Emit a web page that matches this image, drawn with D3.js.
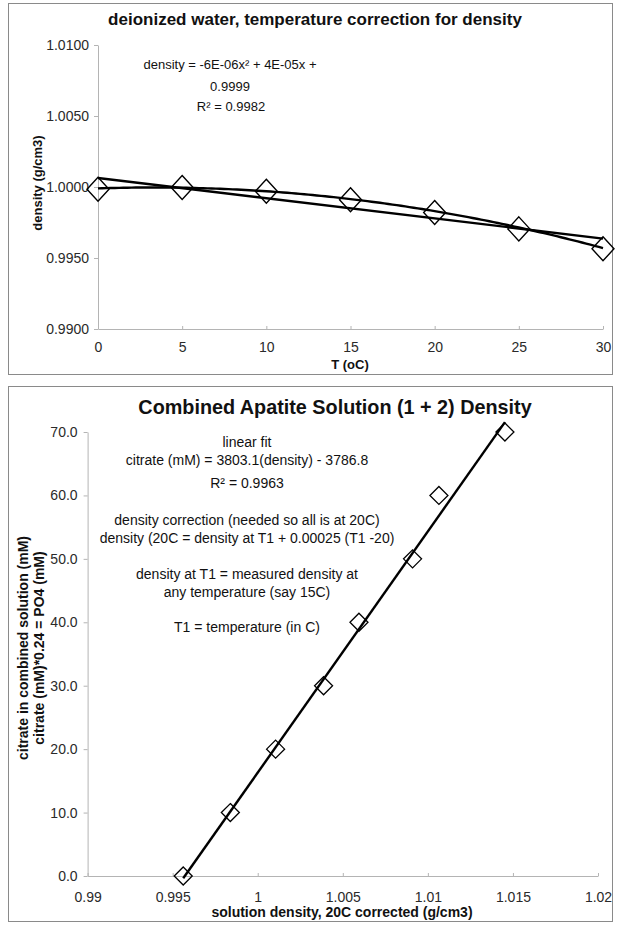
<!DOCTYPE html>
<html>
<head>
<meta charset="utf-8">
<script src="https://cdn.jsdelivr.net/npm/d3@7"></script>
<style>
  html, body { margin: 0; padding: 0; background: #fff; }
  svg { display: block; }
  text { font-family: "Liberation Sans", Arial, sans-serif; }
</style>
</head>
<body>
<svg id="chart" width="617" height="926"></svg>
<script>
// ---- Deionized water: density vs temperature ----
const tempC = [0, 5, 10, 15, 20, 25, 30];
const waterDensity = [0.99984, 0.99997, 0.99970, 0.99910, 0.99820, 0.99705, 0.99565];
const waterYTicks = [0.990, 0.995, 1.000, 1.005, 1.010];
const waterXTicks = [0, 5, 10, 15, 20, 25, 30];
// second-order trend line, as printed on the chart: a*x^2 + b*x + c
const polyCoef = [-6e-6, 4e-5, 0.9999];
const waterFitText = ["density = -6E-06x\u00B2 + 4E-05x +", "0.9999", "R\u00B2 = 0.9982"];

// ---- Combined apatite solution: citrate vs corrected density ----
const citrateMM = [0, 10, 20, 30, 40, 50, 60, 70];
const solutionDensity = [0.99562, 0.99839, 1.00105, 1.00387, 1.00595, 1.00910, 1.01065, 1.01453];
const apatiteXTicks = [0.990, 0.995, 1.000, 1.005, 1.010, 1.015, 1.020];
const apatiteYTicks = [0, 10, 20, 30, 40, 50, 60, 70];
// linear trend line, as printed: citrate = slope*density + intercept
const linFit = { slope: 3803.1, intercept: -3786.8 };
const apatiteNotes = [
  "linear fit",
  "citrate (mM) = 3803.1(density) - 3786.8",
  "R\u00B2 = 0.9963",
  "density correction (needed so all is at 20C)",
  "density (20C = density at T1 + 0.00025 (T1 -20)",
  "density at T1 = measured density at",
  "any temperature (say 15C)",
  "T1 = temperature (in C)"
];

const svg = d3.select("#chart");
const AXIS_GREY = "#b4b4b4";
const FRAME_GREY = "#8a8a8a";
const LABEL = "#2a2a2a";

function diamond(w, h) {
  return `M0,${-h}L${w},0L0,${h}L${-w},0Z`;
}

function styleAxis(g, fontSize) {
  g.select(".domain").attr("stroke", AXIS_GREY).attr("stroke-width", 1);
  g.selectAll(".tick line").attr("stroke", AXIS_GREY);
  g.selectAll(".tick text")
    .attr("fill", LABEL)
    .style("font-family", '"Liberation Sans", Arial, sans-serif')
    .style("font-size", fontSize + "px");
}

function addText(x, y, str, opts = {}) {
  return svg.append("text")
    .attr("x", x).attr("y", y)
    .attr("text-anchor", opts.anchor || "middle")
    .attr("fill", opts.fill || "#111")
    .style("font-size", (opts.size || 12) + "px")
    .style("font-weight", opts.bold ? "bold" : "normal")
    .text(str);
}

function addVText(cx, cy, str, size) {
  return svg.append("text")
    .attr("transform", `translate(${cx},${cy}) rotate(-90)`)
    .attr("text-anchor", "middle")
    .attr("fill", "#111")
    .style("font-size", size + "px")
    .style("font-weight", "bold")
    .text(str);
}

// =============== chart 1 ===============
svg.append("rect")
  .attr("x", 8.5).attr("y", 3.5).attr("width", 604).attr("height", 371)
  .attr("fill", "#fff").attr("stroke", FRAME_GREY);

const x1 = d3.scaleLinear().domain([0, 30]).range([98, 603]);
const y1 = d3.scaleLinear().domain([0.99, 1.01]).range([329, 45]);

svg.append("g")
  .attr("transform", `translate(${x1.range()[0]},0)`)
  .call(d3.axisLeft(y1).tickValues(waterYTicks).tickFormat(d3.format(".4f"))
    .tickSizeInner(4).tickSizeOuter(0).tickPadding(5))
  .call(g => styleAxis(g, 14));

svg.append("g")
  .attr("transform", `translate(0,${y1.range()[0]})`)
  .call(d3.axisBottom(x1).tickValues(waterXTicks).tickFormat(d3.format("d"))
    .tickSizeInner(-3).tickSizeOuter(0).tickPadding(13))
  .call(g => styleAxis(g, 14));

addText(315, 25, "deionized water, temperature correction for density", { size: 17, bold: true });
addText(350, 369, "T (oC)", { size: 13, bold: true });
addVText(42, 183, "density (g/cm3)", 13);

// linear least-squares trend line through the water data
const mT = d3.mean(tempC), mD = d3.mean(waterDensity);
const sxy = d3.sum(tempC, (t, i) => (t - mT) * (waterDensity[i] - mD));
const sxx = d3.sum(tempC, t => (t - mT) ** 2);
const wSlope = sxy / sxx, wInt = mD - wSlope * mT;
const tExt = d3.extent(tempC);
svg.append("line")
  .attr("x1", x1(tExt[0])).attr("y1", y1(wInt + wSlope * tExt[0]))
  .attr("x2", x1(tExt[1])).attr("y2", y1(wInt + wSlope * tExt[1]))
  .attr("stroke", "#000").attr("stroke-width", 2.4);

// polynomial trend line
const polyPts = d3.range(tExt[0], tExt[1] + 0.001, 0.25)
  .map(t => [t, polyCoef[0] * t * t + polyCoef[1] * t + polyCoef[2]]);
svg.append("path")
  .attr("d", d3.line().x(d => x1(d[0])).y(d => y1(d[1]))(polyPts))
  .attr("fill", "none").attr("stroke", "#000").attr("stroke-width", 2.4);

svg.append("g").selectAll("path")
  .data(tempC.map((t, i) => [t, waterDensity[i]]))
  .join("path")
  .attr("transform", d => `translate(${x1(d[0])},${y1(d[1])})`)
  .attr("d", diamond(11, 12))
  .attr("fill", "none").attr("stroke", "#000").attr("stroke-width", 1.4);

addText(230, 69, waterFitText[0], { size: 13 });
addText(230, 91, waterFitText[1], { size: 13 });
addText(231, 111, waterFitText[2], { size: 13 });

// =============== chart 2 ===============
svg.append("rect")
  .attr("x", 8.5).attr("y", 386.5).attr("width", 604).attr("height", 535)
  .attr("fill", "#fff").attr("stroke", FRAME_GREY);

const x2 = d3.scaleLinear().domain([0.99, 1.02]).range([87.6, 598]);
const y2 = d3.scaleLinear().domain([0, 70]).range([876, 432]);

svg.append("g")
  .attr("transform", `translate(${x2.range()[0]},0)`)
  .call(d3.axisLeft(y2).tickValues(apatiteYTicks).tickFormat(d3.format(".1f"))
    .tickSizeInner(4).tickSizeOuter(0).tickPadding(6))
  .call(g => styleAxis(g, 14));

svg.append("g")
  .attr("transform", `translate(0,${y2.range()[0]})`)
  .call(d3.axisBottom(x2).tickValues(apatiteXTicks).tickFormat(d => String(+d.toFixed(3)))
    .tickSizeInner(-3).tickSizeOuter(0).tickPadding(16))
  .call(g => styleAxis(g, 14));

addText(335, 414, "Combined Apatite Solution (1 + 2) Density", { size: 19.8, bold: true });
addText(342, 917, "solution density, 20C corrected (g/cm3)", { size: 14, bold: true });
addVText(28, 648, "citrate in combined solution (mM)", 14);
addVText(44, 648, "citrate (mM)*0.24 = PO4 (mM)", 14);

const dExt = d3.extent(solutionDensity);
svg.append("line")
  .attr("x1", x2(dExt[0])).attr("y1", y2(linFit.slope * dExt[0] + linFit.intercept))
  .attr("x2", x2(dExt[1])).attr("y2", y2(linFit.slope * dExt[1] + linFit.intercept))
  .attr("stroke", "#000").attr("stroke-width", 2.4);

svg.append("g").selectAll("path")
  .data(solutionDensity.map((d, i) => [d, citrateMM[i]]))
  .join("path")
  .attr("transform", d => `translate(${x2(d[0])},${y2(d[1])})`)
  .attr("d", diamond(9, 9))
  .attr("fill", "none").attr("stroke", "#000").attr("stroke-width", 1.3);

const noteY = [447, 465, 488, 525, 543, 579, 597, 632];
apatiteNotes.forEach((s, i) => addText(247, noteY[i], s, { size: 14 }));
</script>
</body>
</html>
